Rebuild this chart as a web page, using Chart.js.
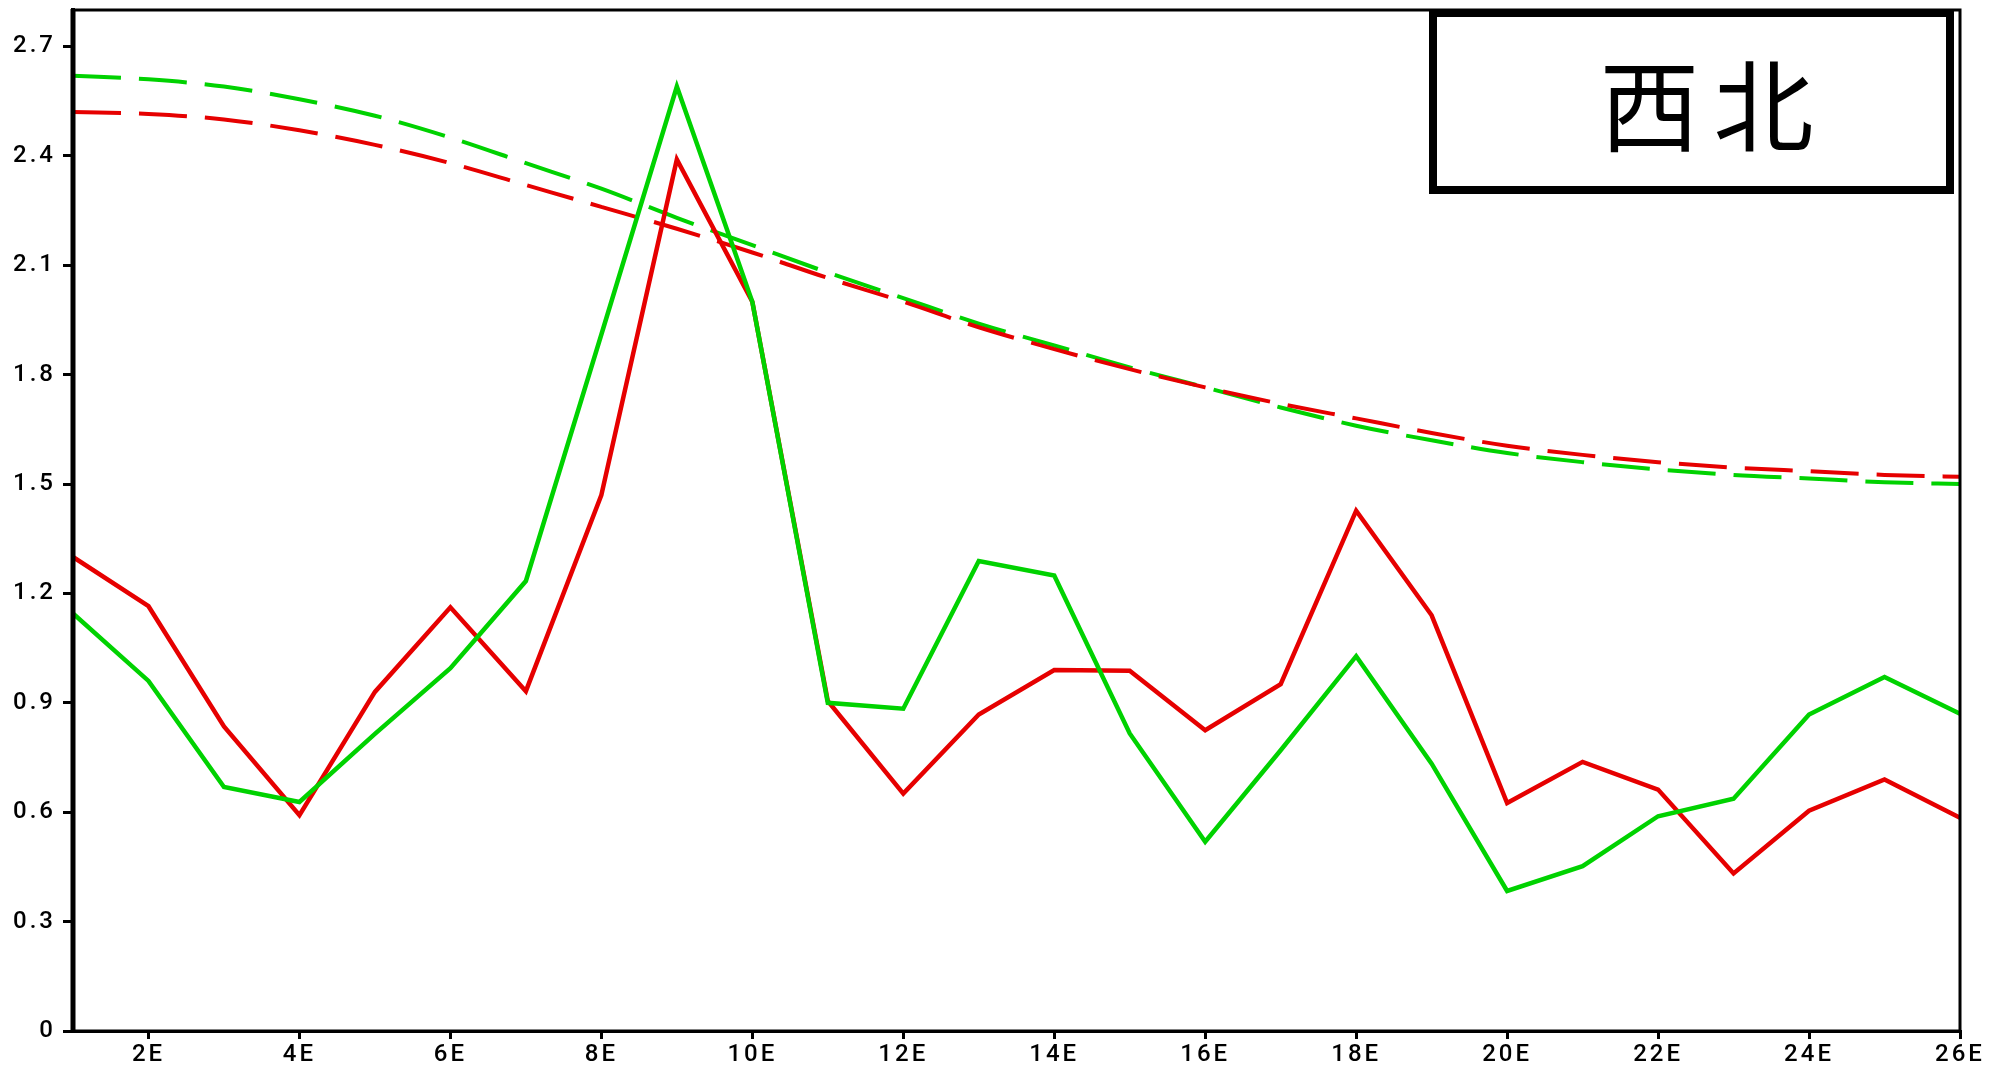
<!DOCTYPE html>
<html>
<head>
<meta charset="utf-8">
<script src="https://cdn.jsdelivr.net/npm/chart.js@4.4.0/dist/chart.umd.min.js"></script>
<style>
    html, body { margin: 0; padding: 0; background: #fff; }
    #wrap { width: 2000px; height: 1069px; position: relative; }
</style>
</head>
<body>
<div id="wrap"><canvas id="wykres"></canvas></div>
<script>
// longitudes (E) of the points
const lons = [1, 2, 3, 4, 5, 6, 7, 8, 9, 10, 11, 12, 13, 14, 15, 16, 17, 18, 19, 20, 21, 22, 23, 24, 25, 26];

// solid lines
const redSolid = [1.30, 1.165, 0.835, 0.592, 0.93, 1.162, 0.932, 1.47, 2.39, 2.00, 0.905, 0.651, 0.868, 0.99, 0.988, 0.825, 0.951, 1.427, 1.14, 0.625, 0.738, 0.662, 0.432, 0.604, 0.69, 0.585];
const greenSolid = [1.145, 0.96, 0.669, 0.628, 0.815, 0.995, 1.234, 1.91, 2.59, 2.00, 0.90, 0.884, 1.289, 1.249, 0.816, 0.519, 0.77, 1.028, 0.733, 0.384, 0.452, 0.589, 0.637, 0.868, 0.971, 0.87];

// dashed lines
const redDash = [2.52, 2.515, 2.50, 2.47, 2.43, 2.38, 2.32, 2.26, 2.20, 2.135, 2.065, 2.00, 1.93, 1.87, 1.815, 1.765, 1.72, 1.68, 1.64, 1.605, 1.58, 1.56, 1.545, 1.535, 1.525, 1.52];
const greenDash = [2.62, 2.61, 2.59, 2.555, 2.51, 2.45, 2.38, 2.31, 2.23, 2.155, 2.08, 2.01, 1.94, 1.88, 1.82, 1.765, 1.71, 1.66, 1.62, 1.585, 1.56, 1.54, 1.525, 1.515, 1.505, 1.50];

// axis ticks
const xTicks = [2, 4, 6, 8, 10, 12, 14, 16, 18, 20, 22, 24, 26];
const yTicks = [0, 0.3, 0.6, 0.9, 1.2, 1.5, 1.8, 2.1, 2.4, 2.7];
const tytul = '西北';

const CZERWONY = '#e60000';
const ZIELONY = '#00d200';

function punkty(wartosci) {
    return lons.map((x, i) => ({ x: x, y: wartosci[i] }));
}

const ramka = {
    id: 'ramka',
    beforeDraw(chart) {
        // wider tick text, like the original plot font
        chart.ctx.letterSpacing = '3px';
    },
    afterDraw(chart) {
        const ctx = chart.ctx;
        const a = chart.chartArea;
        ctx.save();
        // frame around the plot
        ctx.strokeStyle = '#000';
        ctx.lineWidth = 3;
        ctx.strokeRect(a.left, a.top, a.right - a.left, a.bottom - a.top);
        ctx.lineWidth = 5;
        ctx.beginPath();
        ctx.moveTo(a.left, a.top - 1);
        ctx.lineTo(a.left, a.bottom + 1);
        ctx.stroke();
        // title box
        ctx.fillStyle = '#fff';
        ctx.lineWidth = 8;
        const bx = a.right - 527, by = a.top + 3, bw = 517, bh = 177;
        ctx.fillRect(bx, by, bw, bh);
        ctx.strokeRect(bx, by, bw, bh);
        ctx.fillStyle = '#000';
        ctx.font = '100px "Noto Sans CJK SC"';
        ctx.textAlign = 'center';
        ctx.textBaseline = 'middle';
        ctx.letterSpacing = '14px';
        ctx.fillText(tytul, bx + bw / 2 + 22, by + bh / 2 + 4);
        ctx.restore();
    }
};

const wspolne = { pointRadius: 0, fill: false, borderCapStyle: 'butt' };
const czcionka = { family: 'Roboto', size: 24, weight: '500' };

new Chart(document.getElementById('wykres').getContext('2d'), {
    type: 'line',
    data: {
        datasets: [
            Object.assign({ data: punkty(greenSolid), borderColor: ZIELONY, borderWidth: 4.5, tension: 0 }, wspolne),
            Object.assign({ data: punkty(redSolid), borderColor: CZERWONY, borderWidth: 4.5, tension: 0 }, wspolne),
            Object.assign({ data: punkty(redDash), borderColor: CZERWONY, borderWidth: 4, borderDash: [48, 18], cubicInterpolationMode: 'monotone' }, wspolne),
            Object.assign({ data: punkty(greenDash), borderColor: ZIELONY, borderWidth: 4, borderDash: [48, 18], cubicInterpolationMode: 'monotone' }, wspolne)
        ]
    },
    options: {
        responsive: true,
        maintainAspectRatio: false,
        animation: false,
        layout: { padding: { top: 10, right: 40, left: 0, bottom: 0 } },
        plugins: { legend: { display: false }, tooltip: { enabled: false } },
        scales: {
            x: {
                type: 'linear',
                min: 1,
                max: 26,
                afterBuildTicks: (s) => { s.ticks = xTicks.map(v => ({ value: v })); },
                afterFit: (s) => { s.height = 38; },
                grid: { display: true, drawOnChartArea: false, drawTicks: true, tickLength: 8, color: '#000', lineWidth: 3 },
                border: { display: true, color: '#000', width: 3 },
                ticks: {
                    color: '#000',
                    padding: 2,
                    maxRotation: 0,
                    autoSkip: false,
                    font: czcionka,
                    callback: (v) => v + 'E'
                }
            },
            y: {
                min: 0,
                max: 2.8,
                afterBuildTicks: (s) => { s.ticks = yTicks.map(v => ({ value: v })); },
                afterFit: (s) => { s.width = 73; s.paddingTop = 0; s.paddingBottom = 0; },
                grid: { display: true, drawOnChartArea: false, drawTicks: true, tickLength: 10, color: '#000', lineWidth: 3 },
                border: { display: true, color: '#000', width: 4 },
                ticks: {
                    color: '#000',
                    padding: 7,
                    autoSkip: false,
                    font: czcionka,
                    callback: (v) => v === 0 ? '0' : v.toFixed(1)
                }
            }
        }
    },
    plugins: [ramka]
});
</script>
</body>
</html>
